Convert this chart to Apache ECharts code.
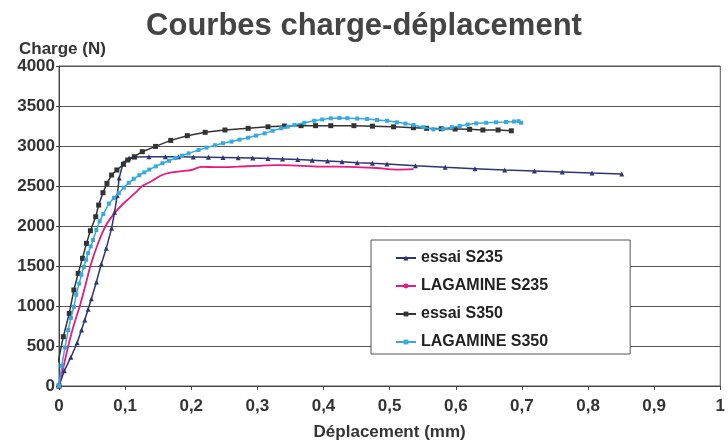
<!DOCTYPE html>
<html>
<head>
<meta charset="utf-8">
<script src="https://cdn.jsdelivr.net/npm/echarts@6/dist/echarts.min.js"></script>
<style>
    html, body { margin: 0; padding: 0; background: #fff; }
    #chart { width: 728px; height: 448px; }
</style>
</head>
<body>
<div id="chart"></div>
<script>
// values: [deplacement (mm), charge (N)]
var essaiS235 = [
    [0, 0], [0.008, 190], [0.018, 360], [0.0275, 541], [0.034, 700], [0.039, 825],
    [0.044, 960], [0.049, 1090], [0.0565, 1300], [0.064, 1525], [0.0715, 1721],
    [0.0795, 1971], [0.084, 2171], [0.088, 2380], [0.091, 2600], [0.097, 2790],
    [0.106, 2850], [0.114, 2862], [0.136, 2866], [0.161, 2866], [0.181, 2865],
    [0.203, 2863], [0.226, 2860], [0.248, 2857], [0.271, 2853], [0.293, 2849],
    [0.316, 2844], [0.338, 2838], [0.361, 2830], [0.383, 2821], [0.406, 2812],
    [0.428, 2802], [0.451, 2792], [0.474, 2783], [0.496, 2775], [0.539, 2754],
    [0.584, 2733], [0.629, 2716], [0.674, 2700], [0.719, 2687], [0.761, 2675],
    [0.806, 2662], [0.851, 2650]
];
var lagamineS235 = [
    [0, 0], [0.007, 250], [0.014, 500], [0.022, 750], [0.0315, 1000], [0.04, 1260],
    [0.0475, 1500], [0.058, 1760], [0.0705, 2000], [0.085, 2170], [0.1, 2300],
    [0.115, 2410], [0.126, 2500], [0.14, 2560], [0.155, 2635], [0.17, 2670],
    [0.185, 2685], [0.2, 2700], [0.215, 2740], [0.24, 2735], [0.27, 2742],
    [0.3, 2752], [0.33, 2760], [0.36, 2755], [0.4, 2742], [0.44, 2740],
    [0.48, 2725], [0.51, 2705], [0.536, 2710]
];
var essaiS350 = [
    [0, 0], [-0.011, 200], [-0.001, 310], [0.0065, 616], [0.0155, 908], [0.0225, 1200],
    [0.029, 1408], [0.0355, 1596], [0.0415, 1783], [0.0475, 1941], [0.0555, 2116],
    [0.06, 2262], [0.0665, 2416], [0.0725, 2533], [0.0795, 2637], [0.0875, 2700],
    [0.0975, 2771], [0.104, 2825], [0.114, 2866], [0.126, 2929], [0.146, 2995],
    [0.169, 3070], [0.194, 3129], [0.221, 3171], [0.251, 3200], [0.286, 3221],
    [0.316, 3240], [0.341, 3250], [0.366, 3254], [0.388, 3254], [0.411, 3254],
    [0.446, 3254], [0.474, 3248], [0.506, 3240], [0.536, 3229], [0.556, 3221],
    [0.578, 3216], [0.599, 3212], [0.621, 3208], [0.641, 3200], [0.664, 3200],
    [0.684, 3190]
];
var lagamineS350 = [
    [0, 0], [0.004, 250], [0.009, 480], [0.014, 700], [0.018, 850], [0.0225, 990],
    [0.026, 1140], [0.0305, 1280], [0.034, 1390], [0.0375, 1490], [0.041, 1580],
    [0.044, 1660], [0.048, 1745], [0.0515, 1825], [0.0565, 1950], [0.0615, 2060],
    [0.067, 2150], [0.0755, 2280], [0.083, 2350], [0.0905, 2410], [0.098, 2480],
    [0.1055, 2540], [0.113, 2590], [0.1215, 2635], [0.129, 2670], [0.1365, 2705],
    [0.1465, 2745], [0.1565, 2785], [0.1665, 2815], [0.1765, 2850], [0.186, 2880],
    [0.196, 2908], [0.211, 2950], [0.223, 2980], [0.236, 3010], [0.248, 3035],
    [0.261, 3055], [0.273, 3080], [0.286, 3104], [0.298, 3130], [0.311, 3158],
    [0.323, 3190], [0.336, 3221], [0.346, 3242], [0.356, 3262], [0.371, 3290],
    [0.386, 3316], [0.398, 3332], [0.411, 3346], [0.424, 3350], [0.436, 3348],
    [0.451, 3343], [0.466, 3337], [0.481, 3325], [0.496, 3316], [0.511, 3296],
    [0.524, 3280], [0.536, 3262], [0.551, 3235], [0.566, 3208], [0.581, 3215],
    [0.594, 3235], [0.606, 3250], [0.618, 3268], [0.631, 3283], [0.646, 3290],
    [0.661, 3296], [0.676, 3300], [0.688, 3306], [0.695, 3310], [0.699, 3290]
];
var seriesNames = ["essai S235", "LAGAMINE S235", "essai S350", "LAGAMINE S350"];

var chartDom = document.getElementById("chart");
var myChart = echarts.init(chartDom);
var font = "'Liberation Sans', Arial, sans-serif";
var option;

// the little hook of the S350 test below x = 0 has no markers
var essaiS350Data = essaiS350.map(function (p) {
    return p[0] < 0 ? { value: p, symbol: "none" } : p;
});

option = {
    animation: false,
    title: [
        {
            text: "Courbes charge-déplacement",
            left: "center",
            top: 6,
            textStyle: { fontFamily: font, fontSize: 31, fontWeight: "bold", color: "#444" },
        },
        {
            text: "Charge (N)",
            left: 14,
            top: 36,
            textStyle: { fontFamily: font, fontSize: 17, fontWeight: "bold", color: "#333" },
        },
    ],
    grid: {
        left: 59,
        right: 2,
        top: 66,
        bottom: 62,
        show: true,
        borderColor: "#555",
        borderWidth: 1,
    },
    legend: {
        orient: "vertical",
        left: 371,
        top: 240,
        itemWidth: 20,
        itemHeight: 6,
        itemGap: 12,
        padding: [10, 82, 4, 24],
        backgroundColor: "#fff",
        borderColor: "#555",
        borderWidth: 1,
        textStyle: { fontFamily: font, fontSize: 16, fontWeight: "bold", color: "#222" },
        data: seriesNames,
    },
    xAxis: {
        type: "value",
        min: 0,
        max: 1,
        interval: 0.1,
        name: "Déplacement (mm)",
        nameLocation: "middle",
        nameGap: 38,
        nameTextStyle: { fontFamily: font, fontSize: 17, fontWeight: "bold", color: "#333" },
        axisLine: { lineStyle: { color: "#444", width: 1 } },
        axisTick: { show: true, length: 4, lineStyle: { color: "#444" } },
        axisLabel: {
            margin: 12,
            fontFamily: font,
            fontSize: 17,
            fontWeight: "bold",
            color: "#333",
            formatter: function (v) {
                return String(Math.round(v * 10) / 10).replace(".", ",");
            },
        },
        splitLine: { show: false },
    },
    yAxis: {
        type: "value",
        min: 0,
        max: 4000,
        interval: 500,
        axisLine: { show: true, lineStyle: { color: "#444", width: 1 } },
        axisTick: { show: true, length: 3, lineStyle: { color: "#444" } },
        axisLabel: {
            margin: 4,
            fontFamily: font,
            fontSize: 17,
            fontWeight: "bold",
            color: "#333",
            formatter: function (v) {
                return String(v);
            },
        },
        splitLine: { show: true, lineStyle: { color: "#555", width: 1 } },
    },
    series: [
        {
            name: seriesNames[0],
            type: "line",
            data: essaiS235,
            symbol: "triangle",
            symbolSize: 5,
            lineStyle: { color: "#2f3472", width: 1.5 },
            itemStyle: { color: "#2f3472" },
            z: 3,
        },
        {
            name: seriesNames[1],
            type: "line",
            data: lagamineS235,
            symbol: "none",
            smooth: 0.3,
            lineStyle: { color: "#e8197f", width: 1.8 },
            itemStyle: { color: "#e8197f" },
            z: 2,
        },
        {
            name: seriesNames[2],
            type: "line",
            data: essaiS350Data,
            clip: false,
            symbol: "rect",
            symbolSize: 5,
            lineStyle: { color: "#333333", width: 1.5 },
            itemStyle: { color: "#333333" },
            z: 4,
        },
        {
            name: seriesNames[3],
            type: "line",
            data: lagamineS350,
            symbol: "rect",
            symbolSize: 4,
            lineStyle: { color: "#35aae0", width: 1.5 },
            itemStyle: { color: "#35aae0" },
            z: 5,
        },
    ],
};

option && myChart.setOption(option);
</script>
</body>
</html>
